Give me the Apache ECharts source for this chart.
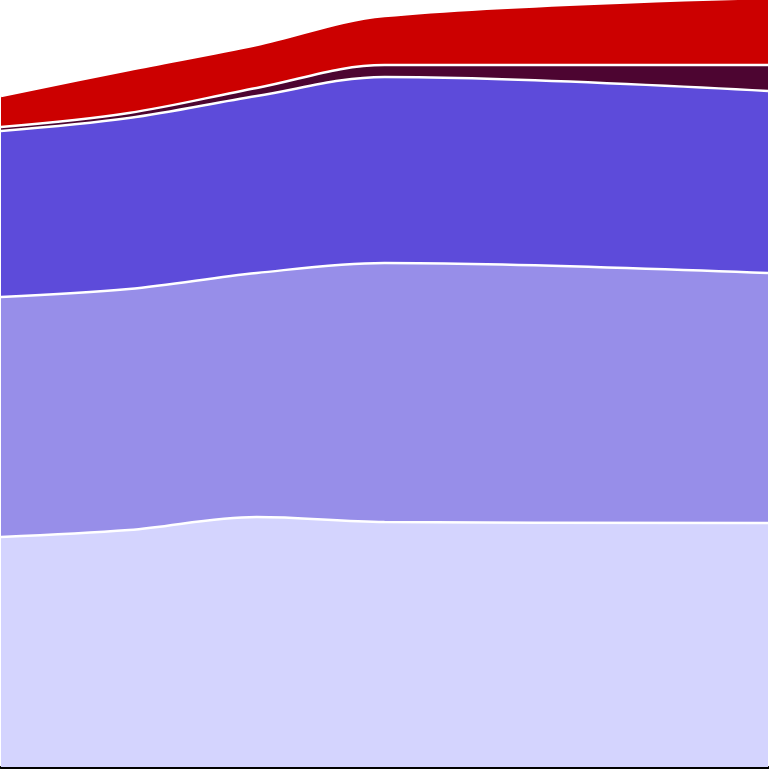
<!DOCTYPE html>
<html>
<head>
<meta charset="utf-8">
<style>
  html, body { margin: 0; padding: 0; background: #fff; }
  #chart { width: 769px; height: 769px; }
</style>
<script src="https://cdn.jsdelivr.net/npm/echarts@6/dist/echarts.min.js"></script>
</head>
<body>
<div id="chart"></div>
<script>
// years along the x axis
const years = [2000, 2005, 2010, 2015, 2030];

// stacked layers, bottom to top
const layer1 = [23.0, 23.7, 25.0, 24.5, 24.4];
const layer2 = [24.0, 24.1, 24.4, 25.9, 25.0];
const layer3 = [16.6, 17.1, 17.7, 18.6, 18.2];
const layer4 = [0.4, 0.5, 0.8, 1.2, 2.6];
const layer5 = [3.1, 4.3, 4.3, 4.9, 6.7];

const layers = [
  { name: 'layer1', data: layer1, color: '#d4d4fe' },
  { name: 'layer2', data: layer2, color: '#978ee9' },
  { name: 'layer3', data: layer3, color: '#5d4bda' },
  { name: 'layer4', data: layer4, color: '#4d0531' },
  { name: 'layer5', data: layer5, color: '#cc0000' }
];

// running totals, so each layer is drawn down to the axis and the next one covers it
let running = years.map(() => 0);
const stacked = layers.map(l => {
  running = running.map((v, i) => v + l.data[i]);
  return { ...l, top: running.slice() };
});

const myChart = echarts.init(document.getElementById('chart'));

const option = {
  animation: false,
  grid: { left: 1, right: 1, top: 0, bottom: 2 },
  xAxis: {
    type: 'value',
    min: 2000,
    max: 2030,
    axisLine: { show: true, lineStyle: { color: '#000', width: 3 } },
    axisTick: { show: false },
    axisLabel: { show: false },
    splitLine: { show: false }
  },
  yAxis: {
    type: 'value',
    min: 0,
    max: 76.7,
    show: false
  },
  // top layer first so lower layers are painted over it
  series: stacked.slice().reverse().map(l => ({
    name: l.name,
    type: 'line',
    smooth: 0.35,
    symbol: 'none',
    lineStyle: { color: '#fff', width: 2.5 },
    areaStyle: { color: l.color, opacity: 1 },
    data: years.map((y, i) => [y, +l.top[i].toFixed(2)])
  }))
};

myChart.setOption(option);
</script>
</body>
</html>
